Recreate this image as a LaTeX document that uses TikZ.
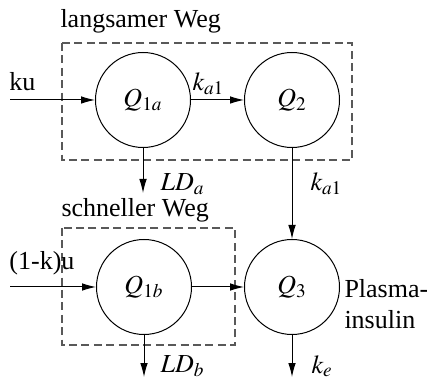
\documentclass[tikz,border=0pt]{standalone}
\usepackage{mathptmx}
\usepackage[no-math]{fontspec}
\setmainfont{Liberation Serif}
\usetikzlibrary{arrows.meta}

\begin{document}
\begin{tikzpicture}[x=0.5pt,y=-0.5pt,font=\fontsize{13}{15.5}\selectfont,>={Latex[length=7pt,width=3.8pt]},line width=0.5pt,
        comp/.style={draw,circle,minimum size=47.5pt,inner sep=0pt},
        grp/.style={draw=black!65,line width=0.6pt,dash pattern=on 4pt off 2.2pt},
        lbl/.style={inner sep=0pt,anchor=base west}]
        \useasboundingbox (0,0) rectangle (427,378);
        % Gruppen
        \draw[grp] (62,43) rectangle (352,160);
        \draw[grp] (62,228) rectangle (235,345);
        \node[lbl] (tslow) at (60,28) {langsamer Weg};
        \node[lbl] (tfast) at (61,217) {schneller Weg};
        % Kompartimente
        \node[comp] (q1a) at (143,100) {$Q_{1a}$};
        \node[comp] (q2) at (292,100) {$Q_{2}$};
        \node[comp] (q1b) at (144,287) {$Q_{1b}$};
        \node[comp] (q3) at (292,287) {$Q_{3}$};
        \node[inner sep=0pt,anchor=west,align=left] (plasma) at (344,304) {Plasma-\\insulin};
        % Ein- und Ausgaenge
        \coordinate (inA) at (10,100);
        \coordinate (inB) at (10,287);
        \coordinate (ldA) at (143,193);
        \coordinate (ldB) at (144,377);
        \coordinate (outE) at (292,377);
        \node[lbl] (ku) at (9,91) {ku};
        \node[lbl] (kmu) at (9,270) {(1-k)u};
        \node[lbl] (lda) at (160,191) {$LD_a$};
        \node[lbl] (ldb) at (160,372) {$LD_b$};
        \node[lbl] (ka1) at (192,91) {$k_{a1}$};
        \node[lbl] (ka1b) at (310,191) {$k_{a1}$};
        \node[lbl] (ke) at (311,373) {$k_e$};
        \draw[->] (inA) -- (q1a);
        \draw[->] (inB) -- (q1b);
        \draw[->] (q1a) -- (q2);
        \draw[->] (q2) -- (q3);
        \draw[->] (q1b) -- (q3);
        \draw[->] (q1a) -- (ldA);
        \draw[->] (q1b) -- (ldB);
        \draw[->] (q3) -- (outE);
\end{tikzpicture}
\end{document}
